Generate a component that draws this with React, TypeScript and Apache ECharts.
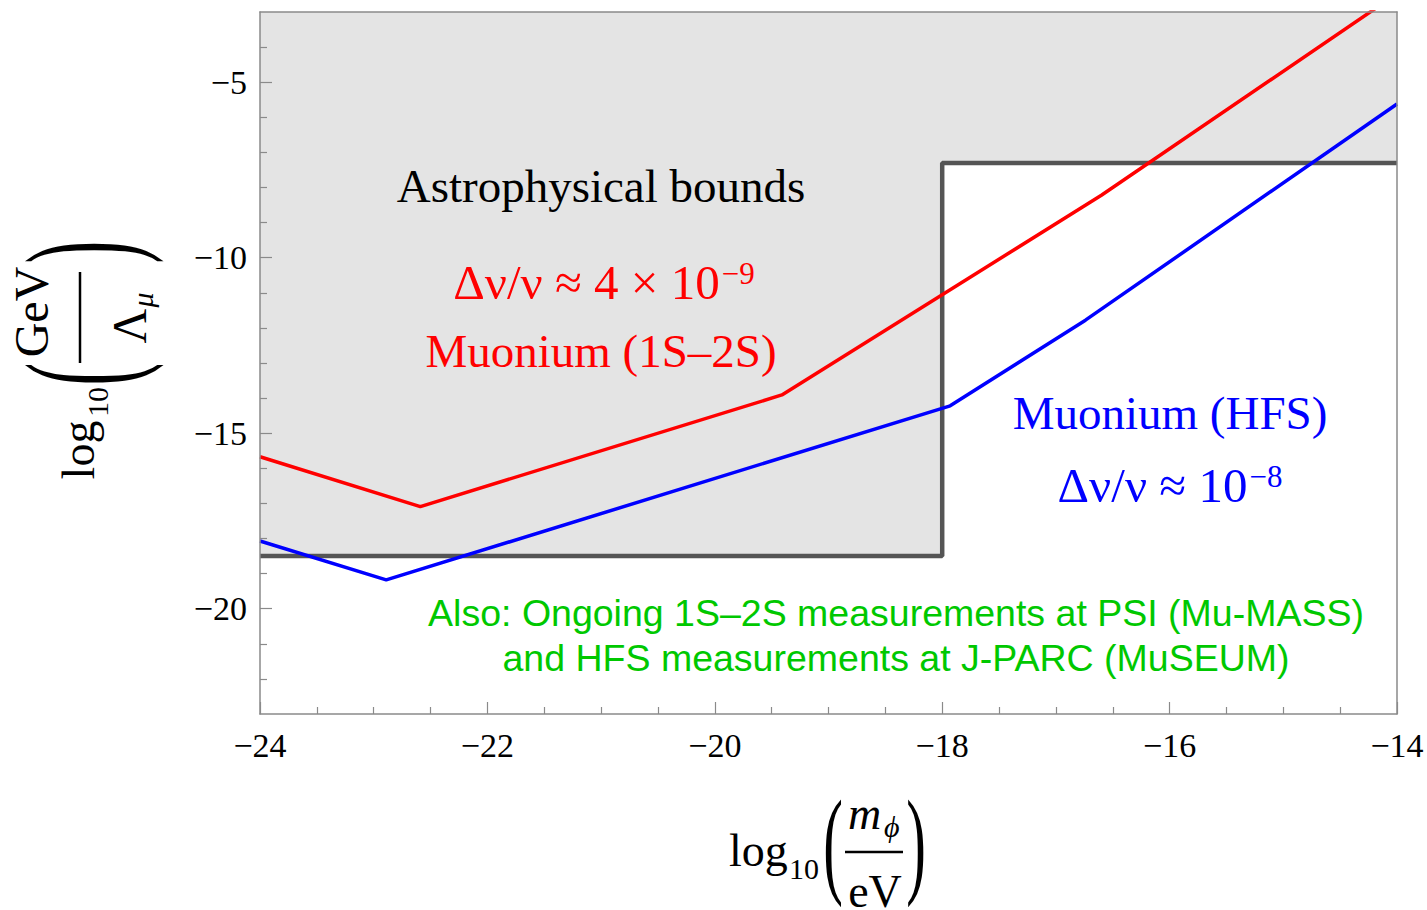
import React, { useEffect, useRef } from "react";
import * as echarts from "echarts";

const xMin = -24;
const xMax = -14;
const yMin = -23;
const yMax = -3;
const xTickStep = 2;
const yMajorTicks = [-20, -15, -10, -5];
const yMinorTicks = [-22, -21, -19, -18, -17, -16, -14, -13, -12, -11, -9, -8, -7, -6, -4];

// Muonium 1S-2S (red)
const redX = [-24, -22.59, -19.41, -16.6, -14];
const redY = [-15.67, -17.09, -13.91, -8.22, -2.48];
// Muonium HFS (blue)
const blueX = [-24, -22.89, -17.93, -16.74, -14];
const blueY = [-18.07, -19.18, -14.22, -11.78, -5.62];
// Astrophysical bounds boundary
const boundX = [-24, -18, -18, -14];
const boundY = [-18.5, -18.5, -7.3, -7.3];

const SERIF = "'Liberation Serif', 'Times New Roman', serif";
const SANS = "'Liberation Sans', Arial, sans-serif";

const fmt = (v: number) => (v < 0 ? "\u2212" + Math.abs(v) : String(v));
const zip = (a: number[], b: number[]) => a.map((x, i) => [x, b[i]]);

export default function App() {
  const ref = useRef<HTMLDivElement>(null);
  useEffect(() => {
    if (!ref.current) return;
    const chart = echarts.init(ref.current, null, { renderer: "svg" });
    const frameColor = "#8a8a8a";
    const labelStyle = { color: "#000", fontFamily: SERIF, fontSize: 34 };
    const t = (text: string, x: number, y: number, size: number, fill: string, extra: any = {}) => ({
      type: "text",
      x,
      y,
      z: 50,
      ...extra,
      style: {
        text,
        fontSize: size,
        fontFamily: extra.fontFamily || SERIF,
        fontStyle: extra.fontStyle || "normal",
        fill,
        align: extra.align || "center",
        verticalAlign: "middle",
      },
    });
    const rot = Math.PI / 2;
    const deltaRich = (color: string) => ({
      m: { fontSize: 49, fontFamily: SERIF, fill: color, verticalAlign: "bottom" },
      s: { fontSize: 31, fontFamily: SERIF, fill: color, verticalAlign: "top", padding: [0, 0, 18, 2] },
    });
    chart.setOption({
      animation: false,
      backgroundColor: "#fff",
      grid: { left: 260, right: 30, top: 12, bottom: 196, containLabel: false },
      xAxis: [
        {
          type: "value",
          min: xMin,
          max: xMax,
          interval: xTickStep,
          z: 10,
          axisLine: { show: true, lineStyle: { color: frameColor, width: 1.5 } },
          axisTick: { show: true, inside: true, length: 12, lineStyle: { color: frameColor, width: 1.2 } },
          minorTick: { show: true, splitNumber: 4, length: 7, lineStyle: { color: frameColor, width: 1.2 } },
          axisLabel: { ...labelStyle, margin: 14, formatter: fmt, showMinLabel: true, showMaxLabel: true },
          splitLine: { show: false },
        },
        {
          type: "value",
          position: "top",
          min: xMin,
          max: xMax,
          z: 10,
          axisLine: { show: true, onZero: false, lineStyle: { color: frameColor, width: 1.5 } },
          axisTick: { show: false },
          axisLabel: { show: false },
          splitLine: { show: false },
        },
      ],
      yAxis: [
        {
          type: "value",
          min: yMin,
          max: yMax,
          z: 10,
          axisLine: { show: true, onZero: false, lineStyle: { color: frameColor, width: 1.5 } },
          axisTick: {
            show: true,
            inside: true,
            length: 12,
            customValues: yMajorTicks,
            lineStyle: { color: frameColor, width: 1.2 },
          },
          axisLabel: { ...labelStyle, margin: 13, formatter: fmt, customValues: yMajorTicks },
          splitLine: { show: false },
        },
        {
          type: "value",
          position: "left",
          min: yMin,
          max: yMax,
          z: 10,
          axisLine: { show: false },
          axisTick: {
            show: true,
            inside: true,
            length: 7,
            customValues: yMinorTicks,
            lineStyle: { color: frameColor, width: 1.2 },
          },
          axisLabel: { show: false, customValues: yMinorTicks },
          splitLine: { show: false },
        },
        {
          type: "value",
          position: "right",
          min: yMin,
          max: yMax,
          z: 10,
          axisLine: { show: true, onZero: false, lineStyle: { color: frameColor, width: 1.5 } },
          axisTick: { show: false },
          axisLabel: { show: false },
          splitLine: { show: false },
        },
      ],
      series: [
        {
          type: "line",
          data: zip(boundX, boundY),
          symbol: "none",
          z: 2,
          lineStyle: { color: "#555555", width: 4.5 },
          areaStyle: { color: "#e4e4e4", opacity: 1, origin: "end" },
          clip: true,
        },
        {
          type: "line",
          data: zip(redX, redY),
          symbol: "none",
          z: 3,
          lineStyle: { color: "#ff0000", width: 3.5 },
          clip: true,
        },
        {
          type: "line",
          data: zip(blueX, blueY),
          symbol: "none",
          z: 3,
          lineStyle: { color: "#0000ff", width: 3.5 },
          clip: true,
        },
      ],
      graphic: [
        t("Astrophysical bounds", 601, 186, 47, "#000"),
        {
          type: "text",
          x: 604,
          y: 282,
          z: 50,
          style: {
            text: "{m|\u0394\u03bd/\u03bd \u2248 4 \u00d7 10}{s|\u22129}",
            align: "center",
            verticalAlign: "middle",
            rich: deltaRich("#ff0000"),
          },
        },
        t("Muonium (1S\u20132S)", 601, 351, 47, "#ff0000"),
        t("Muonium (HFS)", 1170, 413, 47, "#0000ff"),
        {
          type: "text",
          x: 1170,
          y: 485,
          z: 50,
          style: {
            text: "{m|\u0394\u03bd/\u03bd \u2248 10}{s|\u22128}",
            align: "center",
            verticalAlign: "middle",
            rich: deltaRich("#0000ff"),
          },
        },
        t("Also: Ongoing 1S\u20132S measurements at PSI (Mu-MASS)", 896, 613, 37.5, "#00c800", { fontFamily: SANS }),
        t("and HFS measurements at J-PARC (MuSEUM)", 896, 658, 37.5, "#00c800", { fontFamily: SANS }),
        // x-axis label: log10( m_phi / eV )
        t("log", 729, 850, 46, "#000", { align: "left" }),
        t("10", 789, 868, 30, "#000", { align: "left" }),
        t("(", 833, 842, 118, "#000", { scaleX: 0.5 }),
        t("m", 848, 813, 46, "#000", { align: "left", fontStyle: "italic" }),
        t("\u03d5", 884, 826, 30, "#000", { align: "left", fontStyle: "italic" }),
        {
          type: "line",
          z: 50,
          shape: { x1: 845, y1: 852, x2: 903, y2: 852 },
          style: { stroke: "#000", lineWidth: 2.5 },
        },
        t("eV", 875, 891, 46, "#000"),
        t(")", 916, 842, 118, "#000", { scaleX: 0.5 }),
        // y-axis label: log10( GeV / Lambda_mu ), rotated
        t("log", 78, 450, 46, "#000", { rotation: rot }),
        t("10", 97, 402, 30, "#000", { rotation: rot }),
        t("(", 79, 374, 152, "#000", { rotation: rot, scaleX: 0.45 }),
        t("GeV", 31, 312, 48, "#000", { rotation: rot }),
        {
          type: "line",
          z: 50,
          shape: { x1: 80, y1: 272, x2: 80, y2: 363 },
          style: { stroke: "#000", lineWidth: 2.5 },
        },
        t("\u039b", 129, 326, 48, "#000", { rotation: rot }),
        t("\u03bc", 142, 300, 30, "#000", { rotation: rot, fontStyle: "italic" }),
        t(")", 79, 252, 152, "#000", { rotation: rot, scaleX: 0.45 }),
      ],
    });
    return () => chart.dispose();
  }, []);
  return (
    <div
      ref={ref}
      style={{ position: "absolute", left: 0, top: 0, width: 1427, height: 910 }}
    />
  );
}
